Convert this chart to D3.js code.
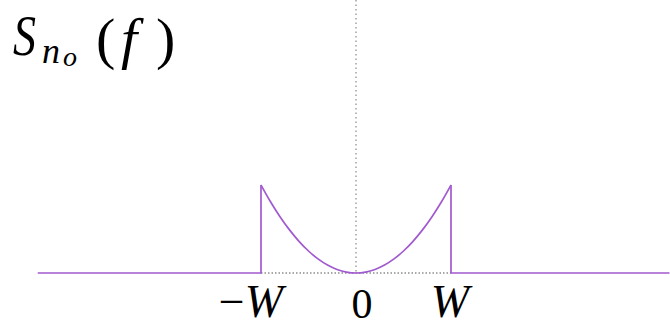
<!DOCTYPE html>
<html>
<head>
<meta charset="utf-8">
<script src="https://cdn.jsdelivr.net/npm/d3@7/dist/d3.min.js"></script>
<style>
  html, body { margin: 0; padding: 0; background: #fff; }
  svg { display: block; }
</style>
</head>
<body>
<svg id="chart" width="670" height="327"></svg>
<script>
// Normalised frequency f/W and the output noise PSD inside the band
const bandFreq = [-1.0, -0.9, -0.8, -0.7, -0.6, -0.5, -0.4, -0.3, -0.2, -0.1, 0.0,
                  0.1, 0.2, 0.3, 0.4, 0.5, 0.6, 0.7, 0.8, 0.9, 1.0];
const bandPsd  = [1.0, 0.81, 0.64, 0.49, 0.36, 0.25, 0.16, 0.09, 0.04, 0.01, 0.0,
                  0.01, 0.04, 0.09, 0.16, 0.25, 0.36, 0.49, 0.64, 0.81, 1.0];
// Zero level outside the band
const leftFreq  = [-3.35, -1.0];
const rightFreq = [1.0, 3.3];
// Axis labels
const tickValues = [-1, 0, 1];
const tickLabels = ["−W", "0", "W"];

const FONT = "'Liberation Serif', 'DejaVu Serif', serif";

const svg = d3.select("#chart");
const x = d3.scaleLinear().domain([-1, 1]).range([261, 451]);
const y = d3.scaleLinear().domain([0, 1]).range([273, 185]);

// dotted vertical axis at f = 0
svg.append("line")
  .attr("x1", x(0)).attr("x2", x(0))
  .attr("y1", 0).attr("y2", y(0))
  .attr("stroke", "#8a8a8a").attr("stroke-width", 1.2)
  .attr("stroke-dasharray", "1.5,3");

// dotted baseline across the band
svg.append("line")
  .attr("x1", x(-1)).attr("x2", x(1))
  .attr("y1", y(0)).attr("y2", y(0))
  .attr("stroke", "#555").attr("stroke-width", 1.2)
  .attr("stroke-dasharray", "1.5,2");

const purple = "#a15ad0";

// flat parts + vertical edges
const lin = d3.line().x(d => x(d[0])).y(d => y(d[1]));
svg.append("path")
  .attr("d", lin([[leftFreq[0], 0], [leftFreq[1], 0], [bandFreq[0], bandPsd[0]]]))
  .attr("fill", "none").attr("stroke", purple).attr("stroke-width", 1.7);
svg.append("path")
  .attr("d", lin([[bandFreq[bandFreq.length - 1], bandPsd[bandPsd.length - 1]], [rightFreq[0], 0], [rightFreq[1], 0]]))
  .attr("fill", "none").attr("stroke", purple).attr("stroke-width", 1.7);
// parabolic bowl inside the band
const smooth = d3.line().x((d, i) => x(bandFreq[i])).y(d => y(d)).curve(d3.curveMonotoneX);
svg.append("path")
  .attr("d", smooth(bandPsd))
  .attr("fill", "none").attr("stroke", purple).attr("stroke-width", 1.7);

// tick labels
const labelDx = [-10, 6, -1];
const labelY = [317, 318, 317];
const labelSize = [46, 42, 46];
tickValues.forEach((v, i) => {
  const t = svg.append("text")
    .attr("x", x(v) + labelDx[i]).attr("y", labelY[i])
    .attr("text-anchor", "middle")
    .attr("font-family", FONT)
    .attr("font-size", labelSize[i]);
  const lab = tickLabels[i];
  if (lab.includes("W")) {
    if (lab.startsWith("−")) t.append("tspan").text("−");
    t.append("tspan").attr("font-style", "italic").text("W");
  } else {
    t.text(lab);
  }
});

// title S_{n_o}(f)
const title = svg.append("g").attr("font-family", FONT);
title.append("text").attr("x", 13).attr("y", 55).attr("font-size", 56)
  .attr("font-style", "italic").attr("textLength", 23)
  .attr("lengthAdjust", "spacingAndGlyphs").text("S");
title.append("text").attr("x", 42).attr("y", 63).attr("font-size", 36)
  .attr("font-style", "italic").text("n");
title.append("text").attr("x", 63).attr("y", 66).attr("font-size", 28)
  .attr("font-style", "italic").text("o");
title.append("text").attr("x", 96).attr("y", 58).attr("font-size", 58).text("(");
title.append("text").attr("x", 121).attr("y", 58).attr("font-size", 58)
  .attr("font-style", "italic").text("f");
title.append("text").attr("x", 156).attr("y", 58).attr("font-size", 58).text(")");
</script>
</body>
</html>
